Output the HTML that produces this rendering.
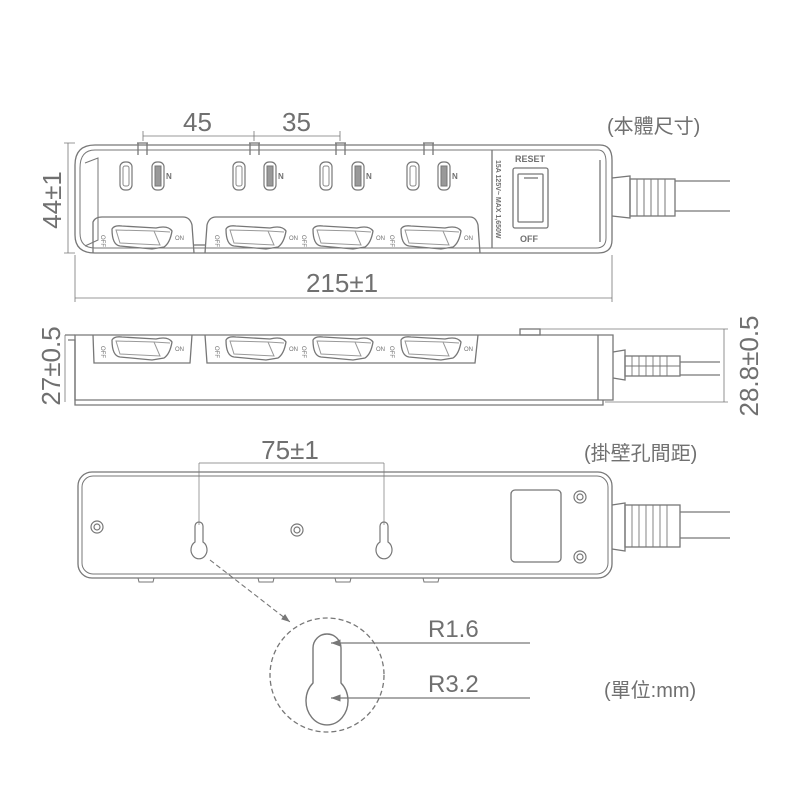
<!DOCTYPE html>
<html><head><meta charset="utf-8"><style>
html,body{margin:0;padding:0;background:#fff}
svg{display:block}
text{font-family:"Liberation Sans","Noto Sans CJK TC",sans-serif;fill:#707070}
</style></head><body>
<svg width="801" height="801" viewBox="0 0 801 801" xmlns="http://www.w3.org/2000/svg">
<defs>
<marker id="ar" markerWidth="8" markerHeight="6" refX="8" refY="3" orient="auto"><path d="M0,0 L8,3 L0,6 z" fill="#777"/></marker>
<g id="outlet"><rect x="0" y="0" width="12" height="28" rx="5" fill="none" stroke="#777" stroke-width="1.2"/><rect x="3" y="4" width="6" height="20" rx="2" fill="none" stroke="#888" stroke-width="1"/></g>
<g id="outletN"><rect x="0" y="0" width="12" height="28" rx="5" fill="none" stroke="#777" stroke-width="1.2"/><rect x="3" y="4" width="6" height="20" fill="#999" stroke="#777" stroke-width="1"/><text x="14" y="17" font-size="8" font-weight="bold">N</text></g>
<g id="rocker"><path d="M-30,-8 Q-28,-12 -20,-11 L14,-9 Q26,-12 30,-6 Q28,6 22,10 L10,12 L-22,9 Q-30,8 -30,-8 z" fill="none" stroke="#777" stroke-width="1.3"/><path d="M-26,-7 L12,-6 L18,8 L-22,6 z" fill="none" stroke="#999" stroke-width="1"/><path d="M12,-6 L28,-5" stroke="#999" fill="none"/><text x="-40" y="3" font-size="6" transform="rotate(90 -38 0)">OFF</text><text x="33" y="3" font-size="6">ON</text></g>
<g id="screw"><circle r="6" fill="none" stroke="#777" stroke-width="1.2"/><circle r="3" fill="none" stroke="#777" stroke-width="1.2"/></g>
<g id="key"><path d="M-4,-14 A4,4 0 0 1 4,-14 L4,2 A8,9 0 1 1 -4,2 z" fill="none" stroke="#777" stroke-width="1.2"/></g>
</defs>

<g stroke="#777" fill="none" stroke-width="1.3">
<!-- TOP VIEW -->
<path d="M95,145 L600,145 Q612,145 612,160 L612,240 Q612,253 598,253 L95,253 Q75,253 75,235 L75,165 Q75,145 95,145 z"/>
<path d="M95,150 L598,150 Q606,150 606,162 L606,238 Q606,248 596,248 L95,248 Q80,248 80,233 L80,168 Q80,150 95,150 z" stroke-width="1"/>
<path d="M85,163 L98,158 L98,240 L85,246" stroke-width="1"/>
<path d="M137,143 L148,143 M138,143 L138,155 M147,143 L147,155"/>
<path d="M249,143 L260,143 M250,143 L250,155 M259,143 L259,155"/>
<path d="M335,143 L346,143 M336,143 L336,155 M345,143 L345,155"/>
<path d="M423,143 L434,143 M424,143 L424,155 M433,143 L433,155"/>
<path d="M93,253 L93,222 Q95,217 102,217 L183,217 Q190,217 192,225 L194,253"/>
<path d="M194,245 L205,245"/>
<path d="M205,253 L207,225 Q209,217 216,217 L470,217 Q476,217 478,225 L480,253"/>
<path d="M492,150 L492,248 M600,160 L600,242"/>
<rect x="513" y="168" width="35" height="60" rx="2"/>
<rect x="518" y="174" width="25" height="48" rx="1"/>
<path d="M524,178 L538,178"/>
<path d="M612,178 L630,176 L630,218 L612,216"/>
<rect x="630" y="179" width="45" height="37"/>
<path d="M637,179 V216 M644,179 V216 M651,179 V216 M658,179 V216 M665,179 V216" stroke-width="1"/>
<path d="M675,181 L730,181 M675,211 L730,211"/>
<g stroke-width="0.8">
<path d="M143,136 L340,136 M143,131 V141 M254,131 V141 M340,131 V141"/>
<path d="M68,143 L68,253 M64,143 L75,143 M64,253 L75,253"/>
<path d="M75,255 L75,302 M612,255 L612,302 M75,298 L612,298"/>
</g>

<!-- SIDE VIEW -->
<path d="M75,335 L613,335 L613,400 L75,400 z"/>
<path d="M65,335 L75,335 M68,340 L75,340 L75,405 L603,405 L603,400"/>
<path d="M598,335 L598,400"/>
<path d="M93,335 L94,363 L190,363 L192,335"/>
<path d="M205,335 L207,363 L475,363 L478,335"/>
<rect x="520" y="329" width="20" height="6"/>
<path d="M613,352 L625,350 L625,380 L613,378"/>
<rect x="625" y="356" width="55" height="20"/>
<path d="M632,356 V376 M639,356 V376 M646,356 V376 M653,356 V376 M660,356 V376 M667,356 V376 M625,366 H680" stroke-width="0.9"/>
<path d="M680,362 L720,362 M680,375 L720,375"/>
<g stroke-width="0.8"><path d="M65,335 V402 M540,329 L728,329 M724,329 V402 M605,402 L728,402"/></g>

<!-- BOTTOM VIEW -->
<rect x="78" y="472" width="534" height="106" rx="14"/>
<rect x="82" y="476" width="526" height="98" rx="11" stroke-width="1"/>
<rect x="511" y="490" width="50" height="72" rx="4"/>
<path d="M138,578 L139,582 L153,582 L154,578 M258,578 L259,582 L273,582 L274,578 M335,578 L336,582 L350,582 L351,578 M423,578 L424,582 L438,582 L439,578" stroke-width="1"/>
<path d="M612,505 L625,503 L625,551 L612,549"/>
<rect x="625" y="505" width="55" height="42"/>
<path d="M632,505 V547 M639,505 V547 M646,505 V547 M653,505 V547 M660,505 V547 M667,505 V547" stroke-width="0.9"/>
<path d="M680,512 L730,512 M680,538 L730,538"/>
<g stroke-width="0.7"><path d="M199,463 L384,463 M199,463 V525 M384,463 V525"/></g>
<path d="M210,560 L290,622" stroke-dasharray="5,3" stroke-width="1.1" marker-end="url(#ar)"/>
<circle cx="327" cy="675" r="57" stroke-dasharray="5,3" stroke-width="1.3"/>
<path d="M313,648 A14,14 0 0 1 341,648 L341,683 A21,24 0 1 1 313,683 z" stroke-width="1.4"/>
<path d="M530,643 L331,643" marker-end="url(#ar)" stroke-width="1.2"/>
<path d="M530,698 L331,698" marker-end="url(#ar)" stroke-width="1.2"/>
</g>
<g>
<use href="#outlet" x="120" y="162"/><use href="#outletN" x="152" y="162"/>
<use href="#outlet" x="233" y="162"/><use href="#outletN" x="264" y="162"/>
<use href="#outlet" x="320" y="162"/><use href="#outletN" x="352" y="162"/>
<use href="#outlet" x="407" y="162"/><use href="#outletN" x="438" y="162"/>
<use href="#rocker" x="142" y="237"/><use href="#rocker" x="256" y="237"/>
<use href="#rocker" x="343" y="237"/><use href="#rocker" x="431" y="237"/>
<use href="#rocker" x="142" y="348"/><use href="#rocker" x="256" y="348"/>
<use href="#rocker" x="343" y="348"/><use href="#rocker" x="431" y="348"/>
<use href="#screw" x="97" y="527"/><use href="#screw" x="297" y="530"/>
<use href="#screw" x="580" y="497"/><use href="#screw" x="580" y="557"/>
<use href="#key" x="199" y="540"/><use href="#key" x="384" y="540"/>
</g>
<text x="515" y="162" font-size="9" font-weight="bold">RESET</text>
<text x="520" y="242" font-size="9" font-weight="bold">OFF</text>
<text x="0" y="0" font-size="7" font-weight="bold" transform="translate(496,160) rotate(90)">15A 125V~ MAX 1,650W</text>

<text x="183" y="131" font-size="26">45</text>
<text x="282" y="131" font-size="26">35</text>
<text x="607" y="133" font-size="20">(本體尺寸)</text>
<text x="0" y="0" font-size="26" text-anchor="middle" transform="translate(61,200) rotate(-90)">44±1</text>
<text x="342" y="292" font-size="26" text-anchor="middle">215±1</text>
<text x="0" y="0" font-size="26" text-anchor="middle" transform="translate(60,366) rotate(-90)">27±0.5</text>
<text x="0" y="0" font-size="26" text-anchor="middle" transform="translate(758,366) rotate(-90)">28.8±0.5</text>
<text x="290" y="459" font-size="26" text-anchor="middle">75±1</text>
<text x="584" y="460" font-size="20">(掛壁孔間距)</text>
<text x="428" y="637" font-size="24">R1.6</text>
<text x="428" y="692" font-size="24">R3.2</text>
<text x="604" y="697" font-size="20">(單位:mm)</text>
</svg>
</body></html>
